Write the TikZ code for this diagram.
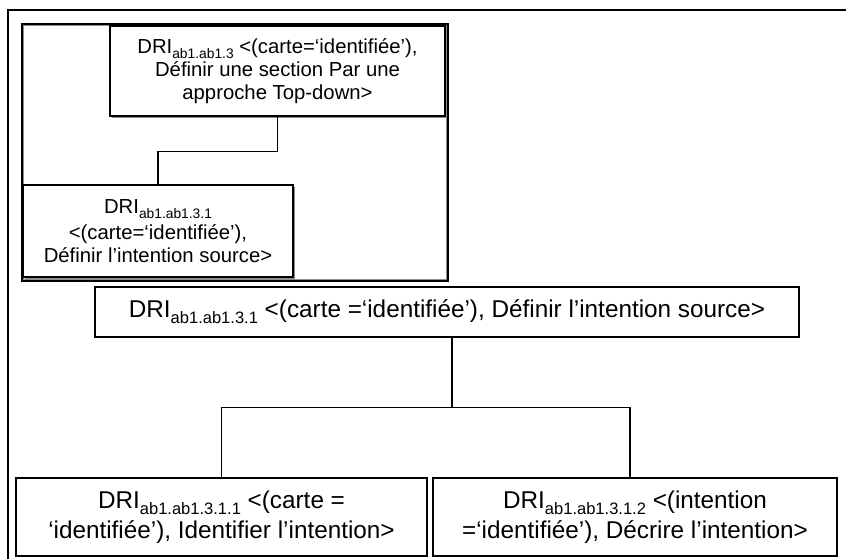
\documentclass[tikz,border=0pt]{standalone}
\usepackage{fontspec}
\usepackage{graphicx}
\setmainfont{Liberation Sans}
\newcommand\mysub[1]{\raisebox{-0.25em}{\scalebox{0.68}{#1}}}
\tikzset{
  box/.style={draw=black, line width=1.3pt, inner sep=0pt, align=center, fill=white},
  smallbox/.style={box, line width=1.2pt, font=\fontsize{20.3}{22.5}\selectfont},
  bigbox/.style={box, font=\fontsize{24.3}{30}\selectfont},
  link/.style={draw=black, line width=1.2pt},
  frame/.style={draw=black, line width=1.3pt},
  shadow/.style={draw=black!45, line width=1pt}
}
\begin{document}
\begin{tikzpicture}[x=1pt,y=-1pt]
\useasboundingbox (0,0) rectangle (846,559);
% outer frame (partially visible)
\coordinate (fr) at (846,10);
\coordinate (fc) at (8,10);
\coordinate (fb) at (8,559);
\draw[frame] (fr) -- (fc) -- (fb);
% container
\node[draw=black, line width=1.7pt, minimum width=426pt, minimum height=257pt, inner sep=0pt] (K) at (235,152.5) {};
\draw[shadow, line width=0.8pt] ([xshift=2pt,yshift=-2pt]K.north west) rectangle ([xshift=-2pt,yshift=2pt]K.south east);
% top boxes with light shadow
\draw[shadow] (111.5,117.5) -- (446.5,117.5) -- (446.5,27.5);
\draw[shadow] (24.5,278.5) -- (294.5,278.5) -- (294.5,186.5);
\node[smallbox, minimum width=335pt, minimum height=90pt] (A) at (277.5,71)
  {DRI\mysub{ab1.ab1.3} <(carte=‘identifiée’),\\[1pt] Définir une section Par une\\ approche Top-down>};
\node[smallbox, minimum width=270pt, minimum height=92pt] (B) at (158,231)
  {DRI\mysub{ab1.ab1.3.1}\\[4pt] <(carte=‘identifiée’),\\ Définir l’intention source>};
\draw[link] (A.south) -- ++(0,35) -| (B.north);
% middle box
\node[bigbox, minimum width=704pt, minimum height=50pt] (C) at (447,312)
  {DRI\mysub{ab1.ab1.3.1} <(carte =‘identifiée’), Définir l’intention source>};
% bottom boxes
\node[bigbox, minimum width=411pt, minimum height=78pt] (D) at (221.5,517)
  {DRI\mysub{ab1.ab1.3.1.1} <(carte =\\ ‘identifiée’), Identifier l’intention>};
\node[bigbox, minimum width=404pt, minimum height=78pt] (E) at (635,517)
  {DRI\mysub{ab1.ab1.3.1.2} <(intention\\ =‘identifiée’), Décrire l’intention>};
\draw[link] ([xshift=5pt]C.south) -- ++(0,70) coordinate (j);
\draw[link] (j) -| (D.north);
\draw[link] (j) -| ([xshift=-5pt]E.north);
\end{tikzpicture}
\end{document}
